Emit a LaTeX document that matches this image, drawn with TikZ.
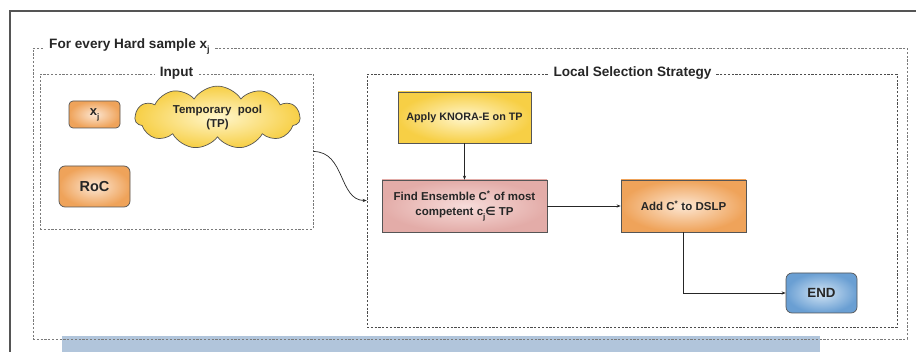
\documentclass[tikz,border=0pt]{standalone}
\usepackage{fontspec}
\setmainfont{Liberation Sans}
\newfontfamily\symfont{DejaVu Sans}
\usetikzlibrary{shapes.symbols,arrows.meta}

\definecolor{frameline}{HTML}{555555}
\definecolor{dashgray}{HTML}{7A7A7A}
\definecolor{orangeout}{HTML}{EFA35A}
\definecolor{orangein}{HTML}{FCE6D2}
\definecolor{yellowout}{HTML}{F7CF45}
\definecolor{yellowin}{HTML}{FFF6CC}
\definecolor{pinkout}{HTML}{E3ACA8}
\definecolor{pinkin}{HTML}{F7DCDA}
\definecolor{blueout}{HTML}{6A9FD3}
\definecolor{bluein}{HTML}{D2E4F4}
\definecolor{barblue}{HTML}{B1C5DB}

\tikzset{
  txt/.style={font=\bfseries\fontsize{11.5}{13.5}\selectfont, text=black!85, align=center},
  groupbox/.style={draw=dashgray, dash pattern=on 2.2pt off 1.6pt, line width=0.7pt},
  grouptitle/.style={fill=white, inner xsep=5pt, inner ysep=1pt, font=\bfseries\fontsize{13.6}{15}\selectfont, text=black!85},
  orangebox/.style={txt, draw=frameline, line width=0.7pt, inner color=orangein, outer color=orangeout},
  yellowbox/.style={txt, draw=frameline, line width=0.7pt, inner color=yellowin, outer color=yellowout},
  pinkbox/.style={txt, draw=frameline, line width=0.7pt, inner color=pinkin, outer color=pinkout},
  bluebox/.style={txt, draw=frameline, line width=0.7pt, inner color=bluein, outer color=blueout, rounded corners=6pt},
  flow/.style={draw=black!85, line width=0.7pt, -{Stealth[length=4pt,width=3.2pt]}},
}

\begin{document}
\begin{tikzpicture}[x=1pt,y=-1pt]
\useasboundingbox (0,0) rectangle (916,352);

% page frame, open towards the right and bottom
\draw[frameline, line width=1.1pt] (10,352) -- (10,11) -- (916,11);

% highlight bar along the bottom
\fill[barblue] (62,336) rectangle (820,352);

% group boxes
\node[groupbox, minimum width=874pt, minimum height=291pt, inner sep=0pt] (outer) at (470,193.5) {};
\node[groupbox, minimum width=273pt, minimum height=155pt, inner sep=0pt] (input) at (176.5,151.5) {};
\node[groupbox, draw=black!70, minimum width=530pt, minimum height=253pt, inner sep=0pt] (local) at (632,200.5) {};

\node[grouptitle, anchor=west] (outertitle) at (44,47) {For every Hard sample x\raisebox{-4pt}{\fontsize{9}{9}\selectfont j}};
\node[grouptitle] (inputtitle) at (176.5,73) {Input};
\node[grouptitle] (localtitle) at (632.5,73) {Local Selection Strategy};

% inputs
\node[orangebox, rounded corners=4pt, minimum width=51pt, minimum height=27pt, inner sep=0pt, font=\bfseries\fontsize{13}{14}\selectfont] (xj) at (94.5,114.5) {x\raisebox{-4pt}{\fontsize{8}{8}\selectfont j}};
\node[cloud, cloud puffs=11, cloud puff arc=115, aspect=2.8, draw=frameline, line width=0.7pt,
      inner color=yellowin, outer color=yellowout, txt, font=\bfseries\fontsize{11.5}{14}\selectfont,
      minimum width=165pt, minimum height=59pt, inner sep=0pt] (tp) at (217.5,117.5) {Temporary\ \ pool\\(TP)};
\node[orangebox, rounded corners=6pt, minimum width=71pt, minimum height=41pt, inner sep=0pt, font=\bfseries\fontsize{14.5}{16}\selectfont] (roc) at (94.5,186.5) {RoC};

% local selection steps
\node[yellowbox, minimum width=133pt, minimum height=51pt, inner sep=0pt, font=\bfseries\fontsize{10.8}{13}\selectfont] (apply) at (464.5,117.5) {Apply KNORA-E on TP};
\node[pinkbox, minimum width=165pt, minimum height=52pt, inner sep=0pt, font=\bfseries\fontsize{11.5}{15}\selectfont] (find) at (464.5,206)
  {Find Ensemble C\textsuperscript{*} of most\\competent c\raisebox{-4pt}{\fontsize{8}{8}\selectfont j}{\symfont\bfseries ∈} TP};
\node[orangebox, minimum width=125pt, minimum height=52pt, inner sep=0pt] (add) at (683.5,206) {Add C\textsuperscript{*} to DSLP};
\node[bluebox, minimum width=71pt, minimum height=40pt, inner sep=0pt, font=\bfseries\fontsize{13.3}{15}\selectfont] (end) at (821.5,293) {END};

% connectors
\draw[flow] (input.east) .. controls +(32,0) and +(-28,0) .. (local.west);
\draw[flow] (apply.south) -- (find.north);
\draw[flow] (find.east) -- (add.west);
\draw[flow] (add.south) |- (end.west);
\end{tikzpicture}
\end{document}
